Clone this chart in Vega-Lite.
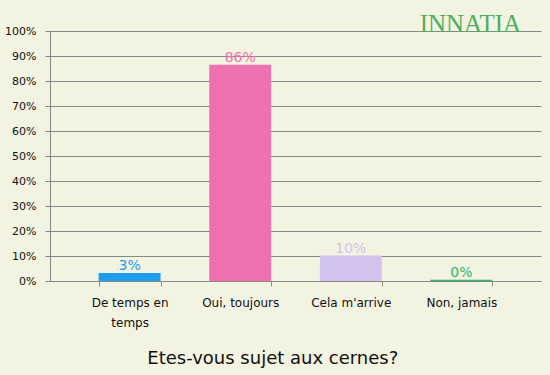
{
  "$schema": "https://vega.github.io/schema/vega-lite/v6.json",
  "width": 491,
  "height": 250,
  "autosize": "none",
  "padding": {"left": 50, "top": 31, "right": 9, "bottom": 94},
  "background": "#F3F3E2",
  "config": {
    "font": "DejaVu Sans",
    "view": {"stroke": null},
    "axis": {"domainColor": "#888888", "tickColor": "#888888", "gridColor": "#888888", "labelColor": "#111111", "labelFont": "DejaVu Sans"}
  },
  "title": {
    "text": "Etes-vous sujet aux cernes?",
    "orient": "bottom",
    "anchor": "middle",
    "frame": "bounds",
    "fontSize": 18,
    "fontWeight": "normal",
    "color": "#111111",
    "offset": 22
  },
  "data": {
    "values": [
      {"reponse": "De temps en temps", "pct": 3.2, "label": "3%"},
      {"reponse": "Oui, toujours", "pct": 86.5, "label": "86%"},
      {"reponse": "Cela m'arrive", "pct": 10.2, "label": "10%"},
      {"reponse": "Non, jamais", "pct": 0.5, "label": "0%"}
    ]
  },
  "encoding": {
    "x": {
      "field": "reponse",
      "type": "nominal",
      "sort": null,
      "scale": {"paddingInner": 0.44, "paddingOuter": 0.44},
      "axis": {
        "title": null,
        "labelAngle": 0,
        "labelFontSize": 12,
        "labelPadding": 11,
        "labelLineHeight": 20,
        "labelExpr": "datum.label == 'De temps en temps' ? ['De temps en', 'temps'] : datum.label",
        "tickBand": "extent",
        "tickSize": 5,
        "grid": false
      }
    },
    "y": {
      "field": "pct",
      "type": "quantitative",
      "scale": {"domain": [0, 100]},
      "axis": {
        "title": null,
        "values": [0, 10, 20, 30, 40, 50, 60, 70, 80, 90, 100],
        "labelExpr": "datum.value + '%'",
        "labelFontSize": 11,
        "tickSize": 5,
        "labelPadding": 9,
        "grid": true,
        "gridOpacity": 1
      }
    },
    "color": {
      "field": "reponse",
      "type": "nominal",
      "sort": null,
      "scale": {
        "domain": ["De temps en temps", "Oui, toujours", "Cela m'arrive", "Non, jamais"],
        "range": ["#1E9DEF", "#EE72AF", "#D4C2EE", "#2FB567"]
      },
      "legend": null
    }
  },
  "layer": [
    {"mark": {"type": "bar"}},
    {
      "mark": {"type": "text", "baseline": "alphabetic", "dy": -3, "fontSize": 14},
      "encoding": {"text": {"field": "label"}}
    },
    {
      "data": {"values": [{"logo": "INNATIA", "at": "Non, jamais", "level": 100}]},
      "mark": {"type": "text", "baseline": "alphabetic", "dy": 1, "dx": 9, "fontSize": 25, "font": "Liberation Serif", "color": "#4DAF5C"},
      "encoding": {
        "x": {"field": "at", "type": "nominal"},
        "y": {"field": "level", "type": "quantitative"},
        "text": {"field": "logo"},
        "color": null
      }
    }
  ]
}
